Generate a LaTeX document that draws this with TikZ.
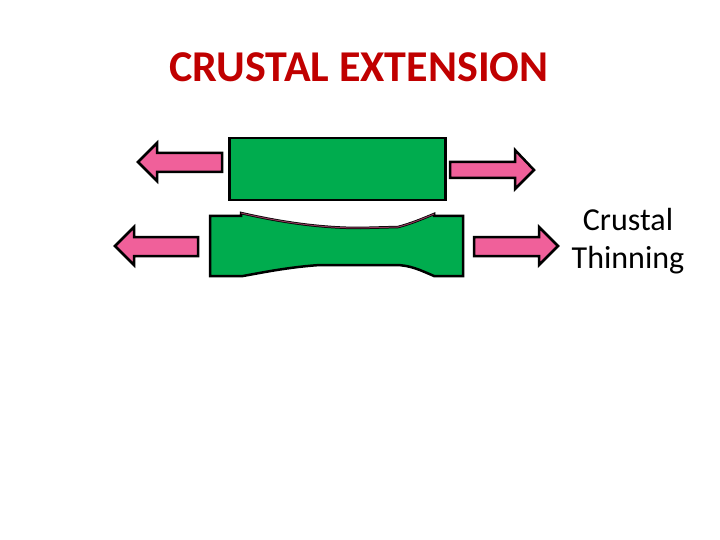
\documentclass[tikz,border=0pt]{standalone}
\usepackage{fontspec}
\setmainfont{Carlito}
\begin{document}
\begin{tikzpicture}[x=1pt,y=-1pt,
  arr/.style={fill=arrpink,draw=black,line width=2.5pt,line join=miter},
  blk/.style={fill=blkgreen,draw=black,line width=2.5pt}]
\definecolor{arrpink}{HTML}{F0609A}
\definecolor{blkgreen}{HTML}{00AC4E}
\definecolor{ttl}{HTML}{C00000}
\useasboundingbox (0,0) rectangle (720,540);
\node[text=ttl,font=\bfseries\fontsize{44}{50}\selectfont] (title) at (359,67) {CRUSTAL EXTENSION};
% top block
\node[blk,minimum width=216,minimum height=62,inner sep=0,anchor=north west] (top) at (228,137) {};
\draw[arr] (222,153) -- (157,153) -- (157,143) -- (138,162) -- (157,181) -- (157,172) -- (222,172) -- cycle;
\draw[arr] (450,162) -- (515,162) -- (515,150) -- (534,170) -- (515,189) -- (515,178) -- (450,178) -- cycle;
% thinned block
\path[fill=blkgreen,draw=black,line width=2.5pt] (210,216) -- (241,216) -- (241,213)
  .. controls (280,222) and (320,228) .. (360,228) -- (398,227)
  .. controls (410,224) and (422,219) .. (434,214) -- (434,216) -- (463,216) -- (463,276) -- (434,276)
  .. controls (420,270) and (410,265) .. (395,265) -- (320,265)
  .. controls (290,267) and (265,272) .. (243,276) -- (210,276) -- cycle;
\node[inner sep=0] (bot) at (336,246) {};
\draw[draw=arrpink!60!black,line width=1pt] (241,213) .. controls (280,222) and (320,228) .. (360,228) -- (398,227) .. controls (410,224) and (422,219) .. (434,214);
\draw[arr] (198,237) -- (134,237) -- (134,227) -- (115,246) -- (134,265) -- (134,256) -- (198,256) -- cycle;
\draw[arr] (474,237) -- (539,237) -- (539,227) -- (558,246) -- (539,265) -- (539,256) -- (474,256) -- cycle;
\node[align=center,font=\fontsize{32}{38}\selectfont] (lbl) at (628,241) {Crustal\\Thinning};
\end{tikzpicture}
\end{document}
